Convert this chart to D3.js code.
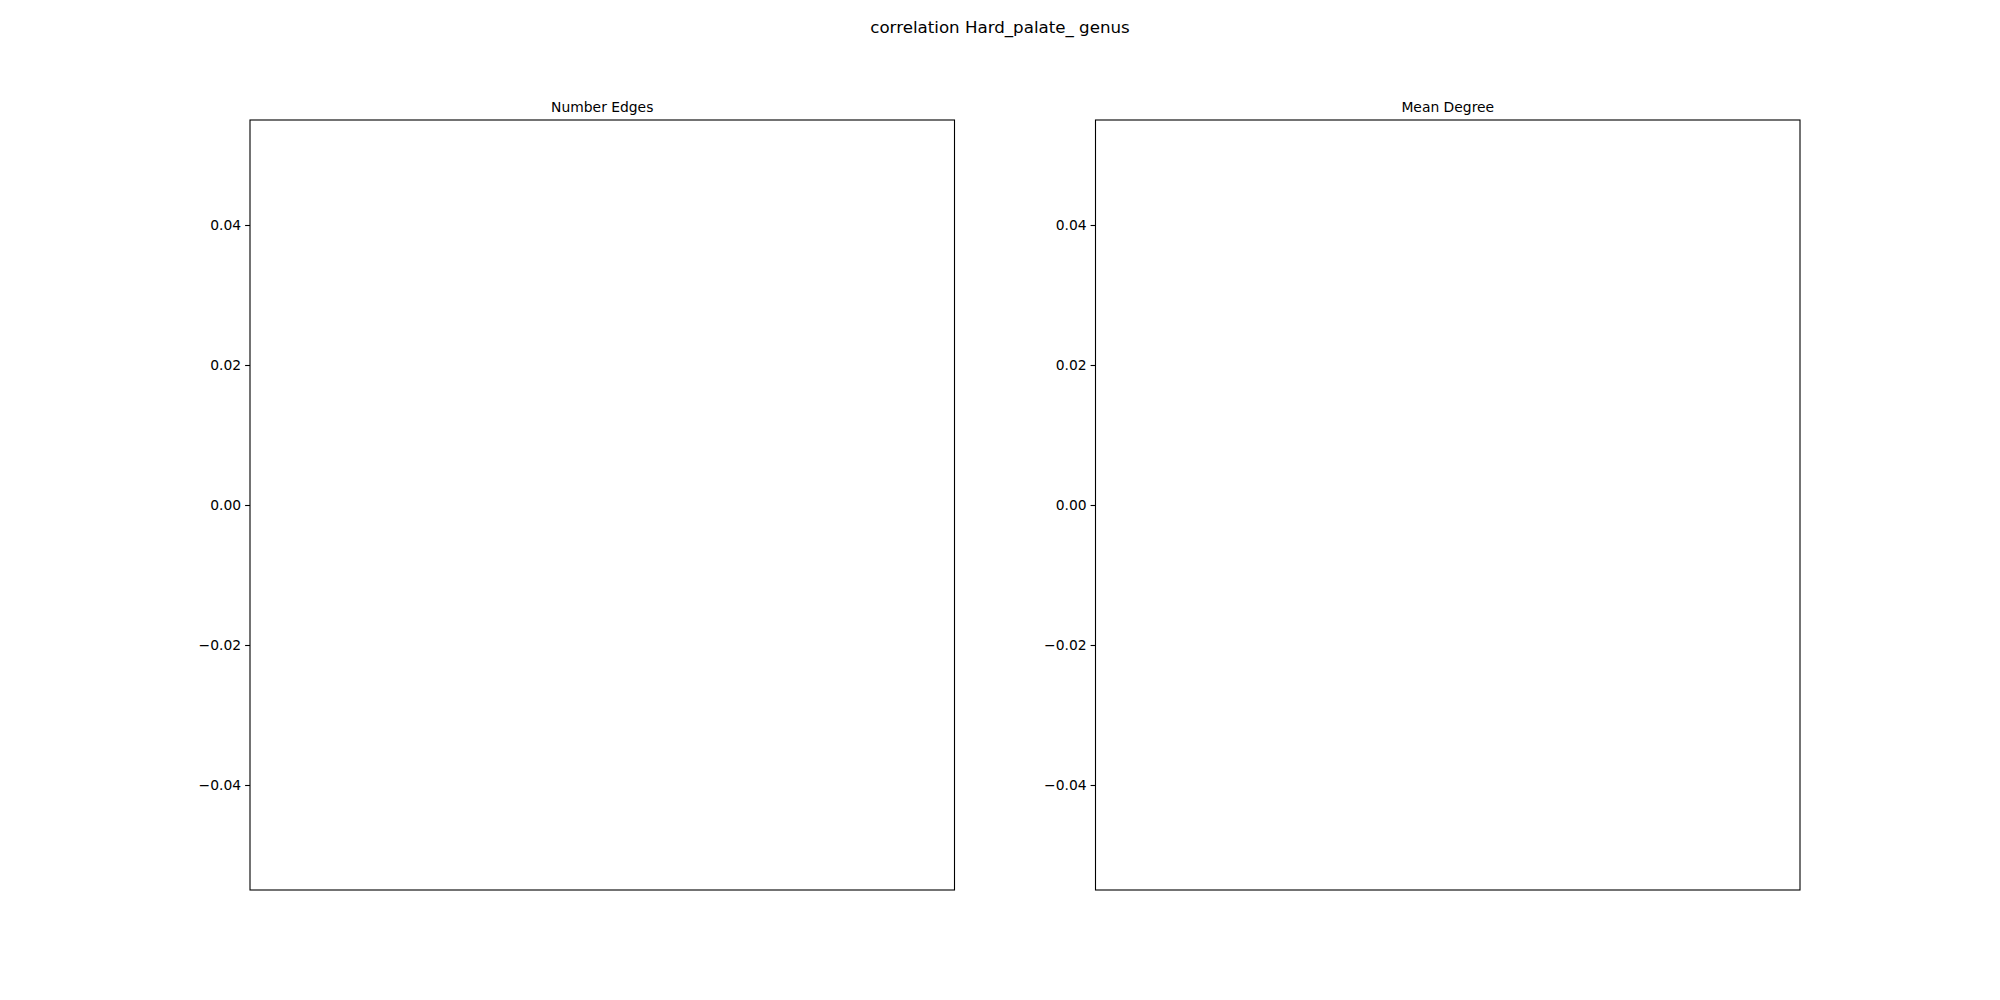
<!DOCTYPE html>
<html>
<head>
<meta charset="utf-8">
<script src="https://cdn.jsdelivr.net/npm/d3@7"></script>
<style>
  html, body { margin: 0; padding: 0; background: #fff; }
  text { font-family: "DejaVu Sans", sans-serif; fill: #000; }
</style>
</head>
<body>
<svg id="chart" width="2000" height="1000"></svg>
<script>
const figureTitle = "correlation Hard_palate_ genus";
const panelTitles = ["Number Edges", "Mean Degree"];
const yDomain = [-0.055, 0.055];
const yTickValues = [-0.04, -0.02, 0.00, 0.02, 0.04];
const xDomain = [-0.055, 0.055];
const panelValues = [[], []]; // no data points in either panel

const svg = d3.select("#chart");
svg.append("rect").attr("width", 2000).attr("height", 1000).attr("fill", "#fff");

const plotTop = 120, plotBottom = 890;
const panelLefts = [250, 1095.5];
const panelWidth = 704.5;

svg.append("text")
  .attr("x", 1000).attr("y", 33)
  .attr("text-anchor", "middle")
  .style("font-size", "16.67px")
  .text(figureTitle);

const y = d3.scaleLinear().domain(yDomain).range([plotBottom, plotTop]);
const fmt = d => d3.format(".2f")(d).replace("-", "\u2212");

panelTitles.forEach((title, i) => {
  const left = panelLefts[i];
  const x = d3.scaleLinear().domain(xDomain).range([left, left + panelWidth]);
  const g = svg.append("g");

  g.selectAll("circle").data(panelValues[i]).enter().append("circle")
    .attr("cx", d => x(d.x)).attr("cy", d => y(d.y)).attr("r", 3);

  const axis = d3.axisLeft(y).tickValues(yTickValues).tickFormat(fmt)
    .tickSize(4.9).tickPadding(4);
  const ag = g.append("g").attr("transform", `translate(${left},0)`).call(axis);
  ag.select(".domain").remove();
  ag.selectAll(".tick line").attr("stroke", "#000").attr("stroke-width", 1.1);
  ag.selectAll(".tick text")
    .style("font-size", "13.89px")
    .style("font-family", "\"DejaVu Sans\", sans-serif")
    .attr("fill", "#000");

  g.append("rect")
    .attr("x", left).attr("y", plotTop)
    .attr("width", panelWidth).attr("height", plotBottom - plotTop)
    .attr("fill", "none").attr("stroke", "#000").attr("stroke-width", 1.1);

  g.append("text")
    .attr("x", left + panelWidth / 2).attr("y", 112)
    .attr("text-anchor", "middle")
    .style("font-size", "13.89px")
    .text(title);
});
</script>
</body>
</html>
